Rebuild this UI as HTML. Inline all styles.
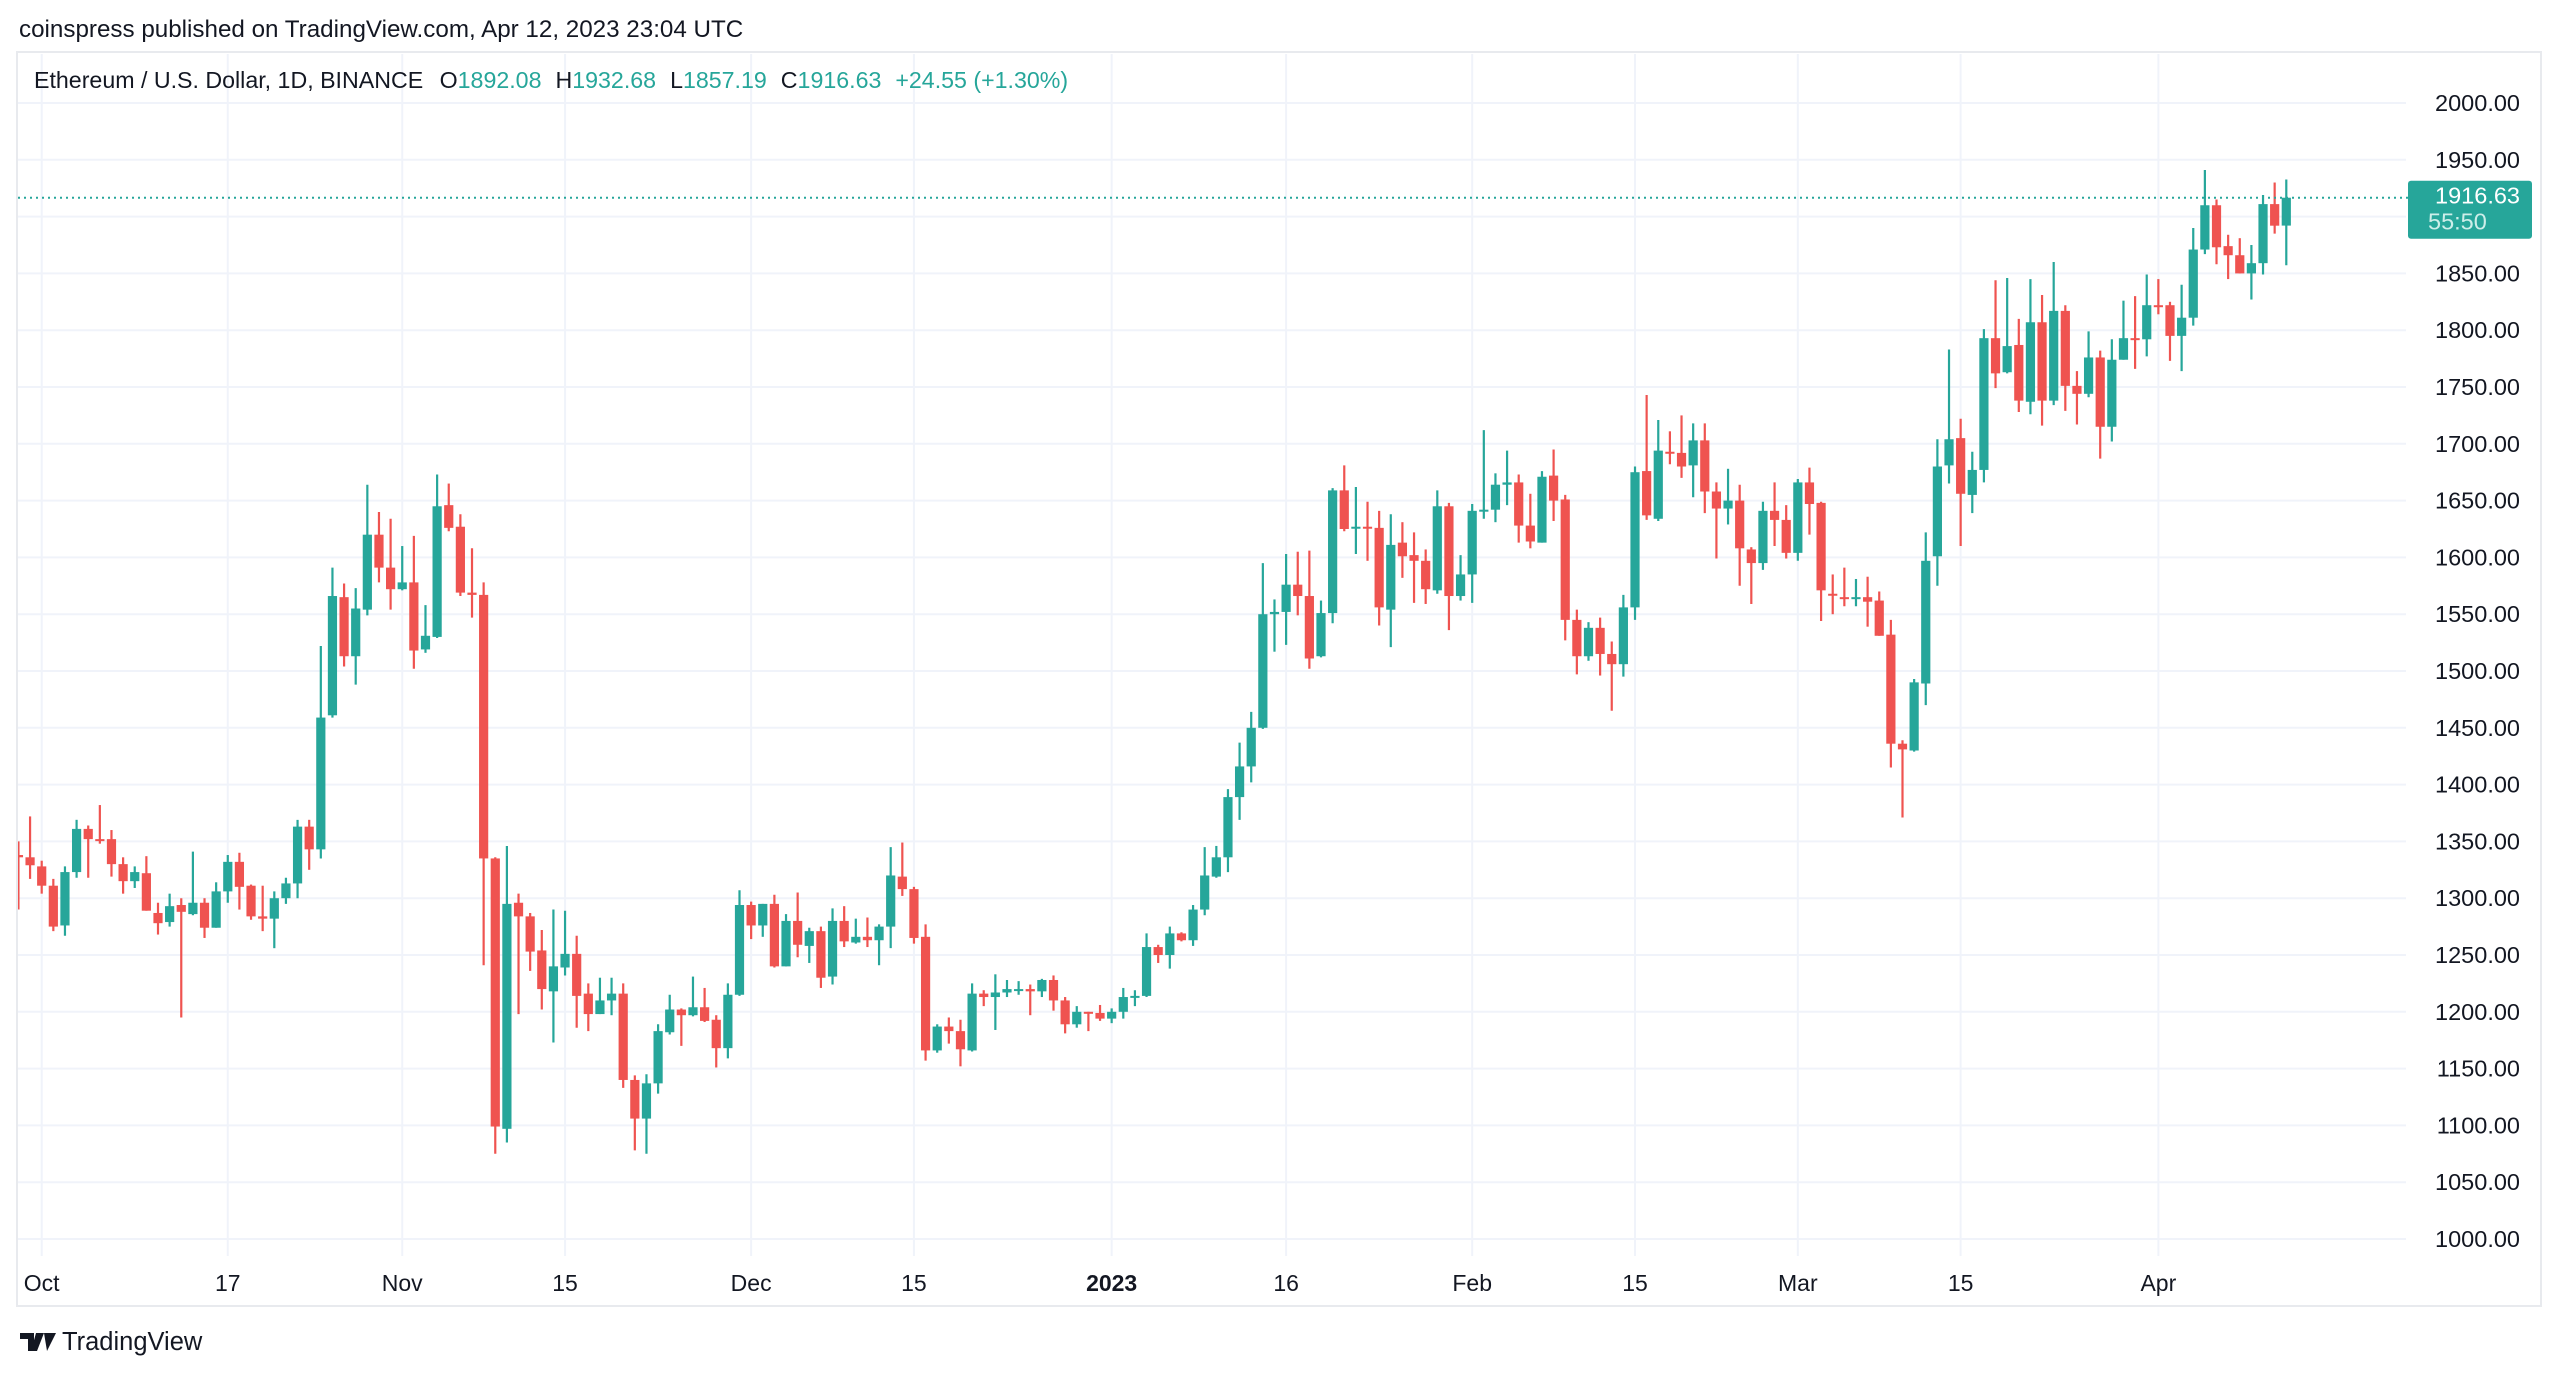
<!DOCTYPE html>
<html><head><meta charset="utf-8">
<style>
html,body{margin:0;padding:0;background:#fff;}
body{width:2560px;height:1375px;overflow:hidden;font-family:"Liberation Sans",sans-serif;}
svg text{font-family:"Liberation Sans",sans-serif;}
</style></head>
<body>
<svg id="chart" width="2560" height="1375" viewBox="0 0 2560 1375" xmlns="http://www.w3.org/2000/svg">
  <defs><clipPath id="plotclip"><rect x="18" y="54" width="2388" height="1202"/></clipPath></defs>
  <text x="19" y="37" font-size="24.2" fill="#131722">coinspress published on TradingView.com, Apr 12, 2023 23:04 UTC</text>
  <rect x="17" y="52" width="2524" height="1254" fill="none" stroke="#e8eaee" stroke-width="2"/>
  <g id="grid"></g>
  <g id="yaxis"></g>
  <g id="xaxis"></g>
  <g id="candles" clip-path="url(#plotclip)"></g>
  <line id="lastline" stroke="#26a69a" stroke-width="2" stroke-dasharray="2,4"/>
  <g>
    <rect id="lastbox" x="2408" width="124" height="58" rx="3" fill="#26a69a"/>
    <text id="lastval" x="2520" font-size="23.5" fill="#fff" text-anchor="end">1916.63</text>
    <text id="lasttime" x="2428" font-size="23.5" fill="#cdeee9">55:50</text>
  </g>
  <text x="34" y="88" font-size="23.2" fill="#131722">Ethereum / U.S. Dollar, 1D, BINANCE <tspan dx="10">O</tspan><tspan fill="#26a69a">1892.08</tspan><tspan dx="14">H</tspan><tspan fill="#26a69a">1932.68</tspan><tspan dx="14">L</tspan><tspan fill="#26a69a">1857.19</tspan><tspan dx="14">C</tspan><tspan fill="#26a69a">1916.63</tspan><tspan dx="14" fill="#26a69a">+24.55 (+1.30%)</tspan></text>
  <g>
    <path d="M20 1333 h14 v18 h-6 v-12 h-8z M36 1333 h8 l-7 18 h-6z M44 1333 h12 l-9 18 h-0z" fill="#131722"/>
    <text x="62" y="1350" font-size="25.5" fill="#131722">TradingView</text>
  </g>
</svg>
<script>
// Daily OHLC, Sep 29 2022 .. Apr 12 2023
const dayIndex0 = -2; // first candle: Sep 29 (Oct 1 = day 0)
const opens  = [1338,1336,1328,1311,1276,1323,1361,1352,1352,1330,1315,1322,1287,1279,1294,1286,1296,1274,1306,1332,1311,1284,1282,1300,1313,1363,1343,1461,1565,1513,1554,1620,1591,
1572,1578,1519,1530,1646,1627,1569,1567,1335,1097,1296,1284,1254,1218,1239,1251,1216,1198,1210,1216,1140,1106,1137,1182,1202,1197,1204,1193,1168,1215,
1294,1276,1295,1240,1280,1258,1271,1231,1280,1261,1266,1263,1275,1319,1308,1266,1166,1187,1183,1166,1216,1213,1217,1219,1220,1218,1228,1210,1189,1200,1199,
1194,1200,1213,1214,1257,1250,1269,1263,1290,1319,1336,1389,1416,1450,1550,1552,1576,1566,1513,1551,1659,1626,1627,1626,1554,1613,1602,1597,1571,1645,1566,
1585,1641,1642,1664,1666,1628,1613,1672,1651,1545,1513,1538,1515,1506,1556,1676,1634,1693,1692,1681,1703,1658,1643,1650,1607,1595,1641,1633,
1604,1666,1648,1568,1565,1564,1565,1562,1532,1436,1430,1489,1601,1681,1705,1655,1677,1793,1763,1787,1737,1807,1738,1817,1751,1744,1776,1715,1774,1793,1792,
1822,1822,1795,1811,1871,1910,1874,1866,1850,1859,1911,1892.08];
const highs  = [1350,1372,1333,1317,1328,1369,1364,1382,1360,1336,1328,1337,1296,1304,1300,1341,1300,1314,1338,1340,1312,1311,1306,1318,1369,1369,1522,1591,1577,1573,1664,1640,1634,
1610,1619,1558,1673,1665,1638,1608,1578,1336,1346,1304,1287,1272,1290,1289,1267,1225,1230,1230,1225,1144,1145,1189,1215,1203,1231,1221,1197,1225,1307,
1297,1295,1303,1286,1305,1274,1275,1291,1293,1282,1283,1277,1345,1349,1310,1277,1189,1195,1193,1225,1219,1233,1228,1227,1224,1229,1232,1213,1205,1200,1206,
1203,1221,1219,1269,1259,1275,1270,1294,1345,1346,1396,1437,1464,1595,1563,1603,1605,1606,1562,1661,1681,1662,1649,1641,1638,1631,1622,1607,1659,1648,
1602,1647,1712,1674,1694,1673,1656,1676,1695,1655,1554,1543,1547,1526,1567,1680,1743,1721,1711,1725,1718,1718,1666,1678,1664,1609,1649,1666,
1646,1669,1679,1649,1585,1591,1581,1583,1570,1545,1439,1493,1622,1704,1783,1722,1693,1801,1844,1846,1810,1845,1831,1860,1822,1764,1799,1782,1792,1826,1830,
1849,1845,1825,1840,1890,1941,1915,1884,1881,1875,1919,1930,1932.68];
const lows   = [1290,1317,1304,1271,1267,1318,1318,1348,1319,1304,1309,1289,1268,1275,1195,1285,1265,1274,1296,1290,1281,1271,1256,1295,1300,1325,1335,1459,1504,1488,1549,1578,1554,
1571,1502,1516,1529,1623,1566,1547,1241,1075,1085,1198,1236,1202,1173,1232,1186,1183,1198,1197,1133,1078,1075,1128,1180,1170,1196,1191,1151,1159,1214,
1264,1266,1239,1240,1248,1243,1221,1224,1257,1260,1257,1241,1256,1302,1260,1157,1164,1172,1152,1165,1205,1184,1213,1215,1197,1213,1201,1181,1186,1183,1192,
1190,1194,1205,1213,1243,1238,1262,1258,1285,1318,1323,1369,1402,1449,1517,1523,1549,1502,1512,1542,1623,1603,1597,1540,1521,1582,1560,1559,1568,1536,
1562,1560,1634,1631,1646,1613,1608,1613,1632,1527,1497,1509,1496,1465,1495,1545,1633,1632,1682,1670,1653,1639,1599,1629,1575,1559,1589,1610,
1599,1597,1620,1544,1550,1557,1557,1539,1531,1415,1371,1429,1470,1575,1665,1610,1639,1666,1749,1762,1728,1726,1716,1734,1729,1717,1741,1687,1702,1774,1766,
1777,1814,1773,1764,1804,1867,1858,1845,1850,1827,1849,1885,1857.19];
const closes = [1336,1329,1311,1275,1323,1361,1352,1351,1330,1315,1323,1289,1278,1293,1288,1296,1274,1306,1332,1310,1284,1282,1300,1313,1363,1343,1459,1566,1513,1555,1620,1591,1572,
1578,1518,1531,1645,1626,1569,1567,1335,1099,1295,1284,1253,1220,1240,1251,1214,1198,1210,1216,1140,1106,1137,1183,1202,1197,1204,1192,1168,1215,1294,
1276,1295,1240,1280,1259,1271,1230,1280,1262,1266,1263,1275,1320,1308,1265,1166,1187,1183,1167,1216,1213,1217,1220,1220,1218,1228,1210,1189,1200,1199,1194,
1200,1213,1214,1257,1250,1269,1263,1290,1320,1336,1389,1416,1450,1550,1552,1576,1566,1511,1551,1659,1625,1627,1626,1556,1611,1601,1597,1572,1645,1566,1585,
1641,1642,1664,1666,1628,1614,1671,1650,1545,1513,1538,1515,1506,1556,1675,1637,1694,1692,1680,1703,1658,1643,1650,1608,1595,1641,1633,1604,
1666,1647,1571,1567,1564,1565,1561,1531,1436,1431,1490,1597,1680,1704,1656,1677,1793,1762,1786,1738,1807,1738,1817,1751,1744,1776,1715,1774,1793,1792,1822,
1821,1795,1811,1871,1910,1873,1866,1850,1859,1911,1892,1916.63];
const priceTicks = [2000,1950,1850,1800,1750,1700,1650,1600,1550,1500,1450,1400,1350,1300,1250,1200,1150,1100,1050,1000];
const gridPrices = [2000,1950,1900,1850,1800,1750,1700,1650,1600,1550,1500,1450,1400,1350,1300,1250,1200,1150,1100,1050,1000];
const timeLabels = ["Oct","17","Nov","15","Dec","15","2023","16","Feb","15","Mar","15","Apr"];
const timeDays   = [0,16,31,45,61,75,92,107,123,137,151,165,182];
const lastPrice = 1916.63;

const NS = "http://www.w3.org/2000/svg";
function yScale(p){ return 103 + (2000 - p) * 1.136; }
function xScale(d){ return 41.7 + d * 11.63; }
function mk(tag, attrs, parent){ const e=document.createElementNS(NS,tag); for(const k in attrs) e.setAttribute(k, attrs[k]); parent.appendChild(e); return e; }

const grid=document.getElementById('grid'), yax=document.getElementById('yaxis'), xax=document.getElementById('xaxis'), cg=document.getElementById('candles');
gridPrices.forEach(p=>{
  const l=mk('line',{x1:18,x2:2406,y1:yScale(p),y2:yScale(p),stroke:'#f0f3fa','stroke-width':2},grid);
  
  
});
timeDays.forEach(d=>{
  const l=mk('line',{x1:xScale(d),x2:xScale(d),y1:54,y2:1256,stroke:'#f0f3fa','stroke-width':2},grid);
  
  
});
priceTicks.forEach(p=>{
  const t=mk('text',{x:2520,y:yScale(p)+8,'font-size':23.5,fill:'#131722','text-anchor':'end'},yax);
  t.textContent=p.toFixed(2);
  
  
});
timeLabels.forEach((s,i)=>{
  const t=mk('text',{x:xScale(timeDays[i]),y:1291,'font-size':23,fill:'#131722','text-anchor':'middle','font-weight':s==='2023'?'bold':'normal'},xax);
  t.textContent=s;
  
  
});
closes.forEach((c,i)=>{
  const o=opens[i], h=highs[i], lo=lows[i];
  const x=xScale(dayIndex0+i);
  const col = c>=o ? '#26a69a' : '#ef5350';
  const g=mk('g',{},cg);
  
  
  mk('line',{x1:x,x2:x,y1:yScale(h),y2:yScale(lo),stroke:col,'stroke-width':2.2},g);
  const top=yScale(Math.max(o,c)), bot=yScale(Math.min(o,c));
  mk('rect',{x:x-4.6,y:top,width:9.2,height:Math.max(2,bot-top),fill:col},g);
});
const ly=yScale(lastPrice);
const ll=document.getElementById('lastline');
ll.setAttribute('x1',18); ll.setAttribute('x2',2408); ll.setAttribute('y1',ly); ll.setAttribute('y2',ly);
document.getElementById('lastbox').setAttribute('y',ly-17);
document.getElementById('lastval').setAttribute('y',ly+6);
document.getElementById('lasttime').setAttribute('y',ly+32);
</script>
</body></html>
